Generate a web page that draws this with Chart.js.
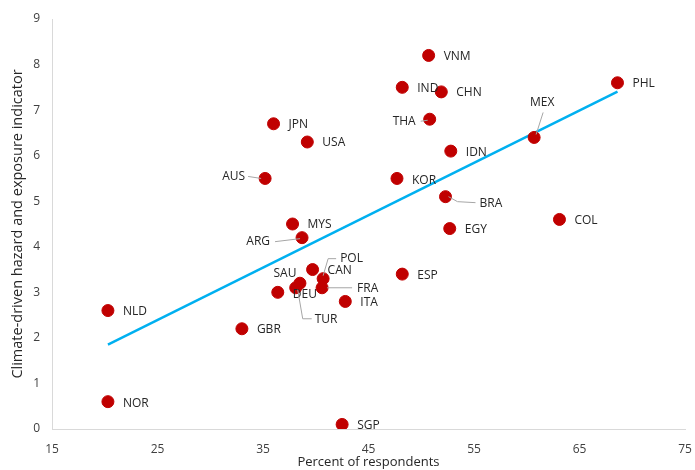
<!DOCTYPE html>
<html>
<head>
<meta charset="utf-8">
<script src="https://cdn.jsdelivr.net/npm/chart.js@4.4.1/dist/chart.umd.min.js"></script>
<style>
  html,body{margin:0;padding:0;background:#fff;}
  #wrap{width:695px;height:470px;position:relative;}
</style>
</head>
<body>
<div id="wrap"><canvas id="c"></canvas></div>
<script>
// --- Data ---
const countries = ['NLD','NOR','GBR','AUS','JPN','USA','MYS','ARG','DEU','TUR','SAU','CAN','POL','FRA','ITA','ESP','SGP','KOR','EGY','BRA','IDN','THA','IND','VNM','CHN','MEX','COL','PHL'];
const respondents = [20.3,20.3,33.0,35.2,36.0,39.2,37.8,38.7,36.4,38.1,38.5,39.7,40.7,40.6,42.8,48.2,42.5,47.7,52.7,52.3,52.8,50.8,48.2,50.7,51.9,60.7,63.1,68.6];
const hazard = [2.6,0.6,2.2,5.5,6.7,6.3,4.5,4.2,3.0,3.1,3.2,3.5,3.3,3.1,2.8,3.4,0.1,5.5,4.4,5.1,6.1,6.8,7.5,8.2,7.4,6.4,4.6,7.6];
const xTicks = [15,25,35,45,55,65,75];
const yTicks = [0,1,2,3,4,5,6,7,8,9];

// label placement (offsets from the marker, px)
const labelPos = {
  AUS:{dx:-20,dy:-2,align:'right',leader:[[-17,-2],[-4,0]]},
  ARG:{dx:-32,dy:4,align:'right',leader:[[-27,4],[-2,1]]},
  SAU:{dx:-15,dy:-10,align:'center'},
  POL:{dx:17,dy:-20,leader:[[0,-3],[5,-20],[13,-20]]},
  DEU:{dx:15,dy:2},
  TUR:{dx:19,dy:32,leader:[[2,2],[7,31],[16,31]]},
  FRA:{dx:35,dy:1,leader:[[5,0],[30,0]]},
  BRA:{dx:34,dy:7,leader:[[3,0],[12,5],[30,6]]},
  THA:{dx:-14,dy:2,align:'right',leader:[[-9,2],[-2,1]]},
  MEX:{dx:8,dy:-35,align:'center',leader:[[9,-25],[2,-3]]},
  KOR:{dx:15,dy:2},
  NOR:{dx:15,dy:2}
};

// linear trend (least squares)
const n = respondents.length;
const mx = respondents.reduce((a,b)=>a+b,0)/n;
const my = hazard.reduce((a,b)=>a+b,0)/n;
let sxy=0,sxx=0;
for(let i=0;i<n;i++){sxy+=(respondents[i]-mx)*(hazard[i]-my);sxx+=(respondents[i]-mx)**2;}
const slope=sxy/sxx, icpt=my-slope*mx;
const xmin=Math.min(...respondents), xmax=Math.max(...respondents);
const trend=[{x:xmin,y:icpt+slope*xmin},{x:xmax,y:icpt+slope*xmax}];

const FONT="'Open Sans', 'DejaVu Sans', sans-serif";

const labelPlugin={
  id:'labels',
  afterDatasetsDraw(chart){
    const ctx=chart.ctx;
    const meta=chart.getDatasetMeta(1);
    ctx.save();
    ctx.font='12px '+FONT;
    ctx.textBaseline='middle';
    meta.data.forEach((pt,i)=>{
      const c=countries[i];
      const p=Object.assign({dx:15,dy:1,align:'left'},labelPos[c]||{});
      if(p.leader){
        ctx.strokeStyle='#a6a6a6';ctx.lineWidth=1;
        ctx.beginPath();
        p.leader.forEach((q,k)=>{ if(k===0) ctx.moveTo(pt.x+q[0],pt.y+q[1]); else ctx.lineTo(pt.x+q[0],pt.y+q[1]); });
        ctx.stroke();
      }
      ctx.fillStyle='#262626';
      ctx.textAlign=p.align||'left';
      ctx.fillText(c,pt.x+p.dx,pt.y+p.dy);
    });
    ctx.restore();
  }
};

new Chart(document.getElementById('c'),{
  type:'scatter',
  data:{datasets:[
    {type:'line',data:trend,borderColor:'#00b0f0',borderWidth:2.5,pointRadius:0,fill:false,order:2},
    {data:respondents.map((v,i)=>({x:v,y:hazard[i]})),backgroundColor:'#c00000',borderColor:'#c00000',pointRadius:6,pointHoverRadius:6,order:1}
  ]},
  options:{
    responsive:true,maintainAspectRatio:false,animation:false,
    layout:{padding:{top:19,right:10,left:0,bottom:0}},
    plugins:{legend:{display:false},tooltip:{enabled:false}},
    scales:{
      x:{type:'linear',min:15,max:75,
        afterBuildTicks(s){s.ticks=xTicks.map(v=>({value:v}));},
        afterFit(s){s.height=41;s.paddingLeft=0;s.paddingRight=0;},
        grid:{display:true,drawOnChartArea:false,drawTicks:false},
        border:{display:true,color:'#d9d9d9',width:1},
        ticks:{padding:13,color:'#404040',font:{family:FONT,size:12},maxRotation:0},
        title:{display:true,text:'Percent of respondents',color:'#262626',font:{family:FONT,size:13},padding:{top:0,bottom:0}}
      },
      y:{type:'linear',min:0,max:9,
        afterBuildTicks(s){s.ticks=yTicks.map(v=>({value:v}));},
        afterFit(s){s.width=52;s.paddingTop=0;s.paddingBottom=0;},
        grid:{display:true,drawOnChartArea:false,drawTicks:false},
        border:{display:true,color:'#d9d9d9',width:1},
        ticks:{padding:12,color:'#404040',font:{family:FONT,size:12}},
        title:{display:true,text:'Climate-driven hazard and exposure indicator',color:'#262626',font:{family:FONT,size:14.5},padding:{top:9,bottom:0}}
      }
    }
  },
  plugins:[labelPlugin]
});
</script>
</body>
</html>
